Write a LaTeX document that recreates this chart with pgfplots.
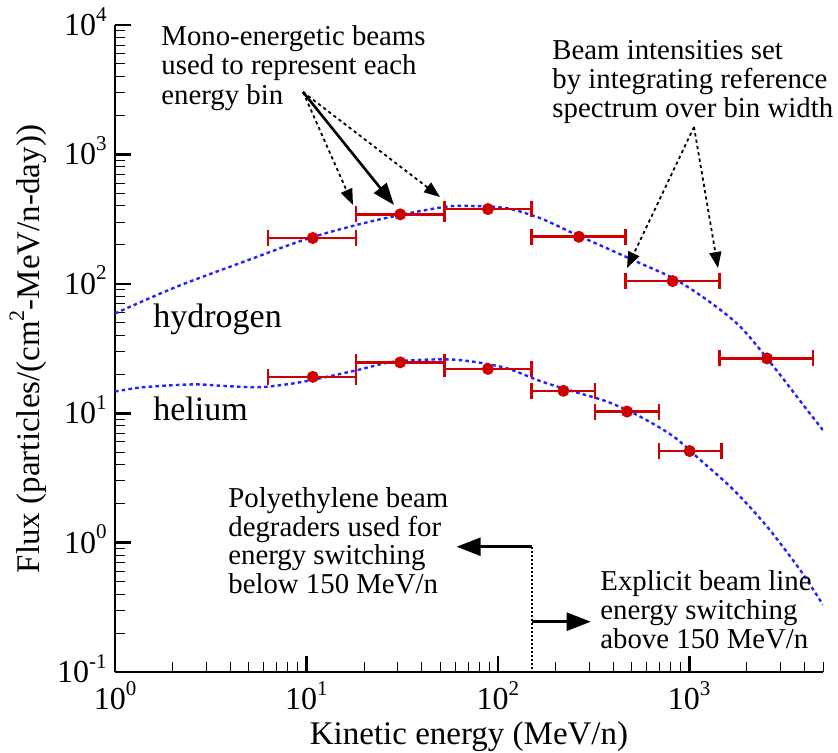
\documentclass[border=0pt]{standalone}
\usepackage{fontspec}
\setmainfont{Liberation Serif}
\usepackage{pgfplots}
\pgfplotsset{compat=1.18}
\usetikzlibrary{arrows.meta}
\definecolor{myred}{RGB}{206,0,0}
\definecolor{myblue}{RGB}{35,35,255}
\newcommand\pw[1]{10\raisebox{0.45em}[0pt][0pt]{\fontsize{10.5}{10.5}\selectfont #1}}
\newcommand\fs[1]{\fontsize{#1}{#1}\selectfont}
\begin{document}
\begin{tikzpicture}
\begin{axis}[
  at={(0,0)}, anchor=south west,
  scale only axis, width=354pt, height=323.5pt,
  xmode=log, ymode=log,
  xmin=1, xmax=5000, ymin=0.1, ymax=10000,
  axis lines*=left,
  axis line style={line width=1.3pt},
  tick align=inside,
  xtick={1,10,100,1000},
  xticklabels={\pw{0},\pw{1},\pw{2},\pw{3}},
  ytick={0.1,1,10,100,1000,10000},
  yticklabels={\pw{-1},\pw{0},\pw{1},\pw{2},\pw{3},\pw{4}},
  minor xtick={2,3,4,5,6,7,8,9,20,30,40,50,60,70,80,90,200,300,400,500,600,700,800,900,2000,3000,4000,5000},
  minor ytick={0.2,0.3,0.4,0.5,0.6,0.7,0.8,0.9,2,3,4,5,6,7,8,9,20,30,40,50,60,70,80,90,200,300,400,500,600,700,800,900,2000,3000,4000,5000,6000,7000,8000,9000},
  major tick length=8pt, minor tick length=5pt,
  every major tick/.append style={line width=1.3pt, black},
  every minor tick/.append style={line width=0.5pt, black},
  tick label style={font=\fs{16}},
  xticklabel style={anchor=north, inner sep=0pt, yshift=-8pt},
  yticklabel style={anchor=east, inner sep=0pt, xshift=-4pt},
]
% reference spectra (dotted blue)
\addplot[myblue, line width=1.2pt, dash pattern=on 1.8pt off 1.6pt, smooth] coordinates {
 (1,59) (2.1,95) (4.7,148) (10.4,226) (23.3,311) (52,392) (74.6,399) (112,383)
 (167,321) (249,245) (372,188) (555,144) (829,110) (1239,75) (1849,46.6)
 (2762,22.9) (4130,10.6) (5000,7.4)};
\addplot[myblue, line width=1.2pt, dash pattern=on 1.8pt off 1.6pt, smooth] coordinates {
 (1,14.7) (1.41,15.9) (2.57,16.7) (3.83,16.2) (5.73,15.9) (8.55,17.0) (12.8,19.1)
 (19.1,21.8) (28.5,25.0) (52,26.1) (74.6,25.0) (112,22.2) (167,17.7) (249,14.7)
 (372,12.3) (555,9.4) (829,6.6) (1143,4.35) (1708,2.55) (2550,1.33) (3811,0.61) (5000,0.33)};
% hydrogen beams
\addplot[myred, only marks, mark=*, mark size=2.8pt,
  error bars/.cd, x dir=both, x explicit, error mark=|,
  error bar style={line width=1.3pt},
  error mark options={line width=1.3pt, mark size=4pt}]
  table[x=x, y=y, x error plus=ep, x error minus=em] {
x     y     ep    em
10.8  226   7.4   4.5
30.9  344   21.6  12.7
88.8  378   61.2  36.3
265   231   200   115
819   105   618   354
2550  26.5  1890  1113
};
% helium beams
\addplot[myred, only marks, mark=*, mark size=2.8pt,
  error bars/.cd, x dir=both, x explicit, error mark=|,
  error bar style={line width=1.3pt},
  error mark options={line width=1.3pt, mark size=4pt}]
  table[x=x, y=y, x error plus=ep, x error minus=em] {
x     y     ep    em
10.8  19.1  7.4   4.5
30.9  24.7  21.6  12.7
88.8  22.0  61.2  36.3
220   14.9  102   70
473   10.3  222   151
1005  5.1   467   310
};
\end{axis}
\begin{scope}[x=0.5pt, y=-0.5pt, shift={(-57.5pt,336pt)}]
  \tikzset{dotarr/.style={line width=0.9pt, dash pattern=on 1.6pt off 1.6pt,
      -{Triangle[length=8pt,width=6pt]}}}
  % axis labels
  \node[anchor=base, font=\fs{16.5}] at (469,744) {Kinetic energy (MeV/n)};
  \node[anchor=base, rotate=90, font=\fs{16.5}] at (39,349) {Flux (particles/(cm\raisebox{0.45em}[0pt][0pt]{\fs{11}2}-MeV/n-day))};
  % series labels
  \node[anchor=base west, inner sep=0pt, font=\fs{17}] at (153,327) {hydrogen};
  \node[anchor=base west, inner sep=0pt, font=\fs{17}] at (153,420) {helium};
  % annotations
  \begin{scope}[every node/.style={anchor=base west, inner sep=0pt, font=\fs{14.4}}]
    \node at (161,45) {Mono-energetic beams};
    \node at (161,74.5) {used to represent each};
    \node at (161,104) {energy bin};
    \node at (552,59) {Beam intensities set};
    \node at (552,88) {by integrating reference};
    \node at (552,117) {spectrum over bin width};
    \node at (228,507) {Polyethylene beam};
    \node at (228,536) {degraders used for};
    \node at (228,564.5) {energy switching};
    \node at (228,593) {below 150 MeV/n};
    \node at (600,590) {Explicit beam line};
    \node at (600,619) {energy switching};
    \node at (600,648) {above 150 MeV/n};
  \end{scope}
  % arrows
  \draw[dotarr] (303,92) -- (353,205);
  \draw[line width=1.3pt, -{Triangle[length=11pt,width=8pt]}] (303,92) -- (394,205);
  \draw[dotarr] (303,92) -- (440,197);
  \draw[dotarr] (694,127) -- (627,268);
  \draw[dotarr] (694,127) -- (718,268);
  \draw[line width=0.8pt, dash pattern=on 1pt off 1pt] (531.7,546.7) -- (531.7,672);
  \draw[line width=1.3pt, -{Triangle[length=12pt,width=9pt]}] (531.7,546.7) -- (456.7,546.7);
  \draw[line width=1.3pt, -{Triangle[length=12pt,width=9pt]}] (531.7,621.7) -- (590.7,621.7);
  \pgfresetboundingbox
  \path[use as bounding box] (0,0) rectangle (838,752);
\end{scope}
\end{tikzpicture}
\end{document}
